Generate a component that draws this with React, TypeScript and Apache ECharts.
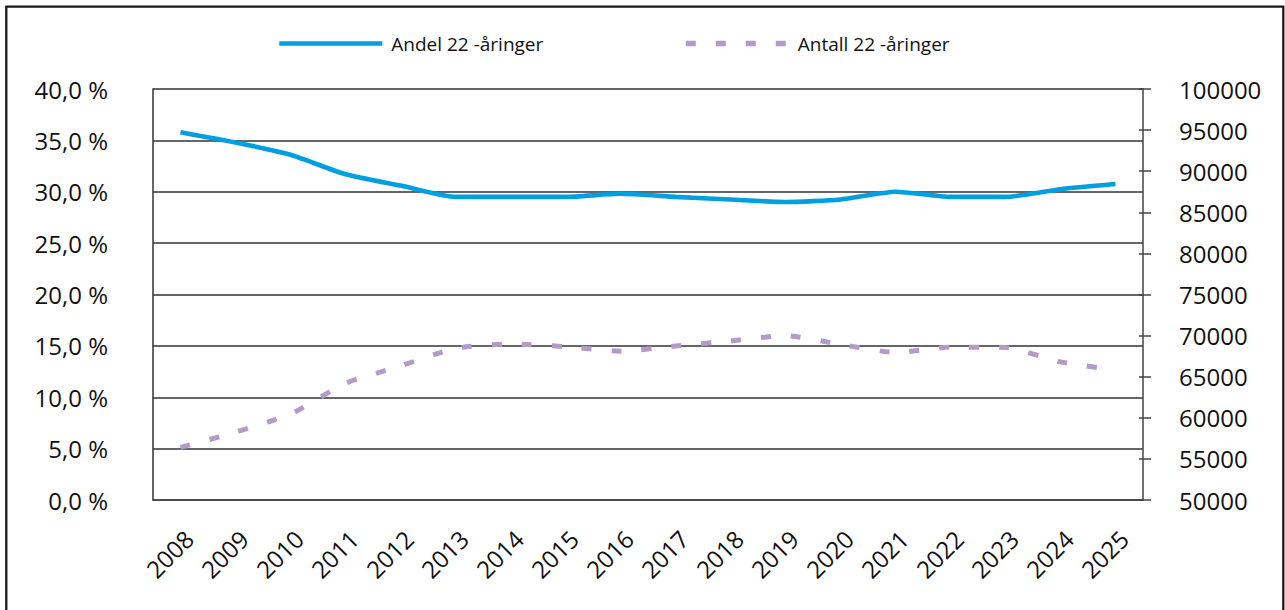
import React, { useEffect, useRef } from "react";
import * as echarts from "echarts";

const years = ["2008","2009","2010","2011","2012","2013","2014","2015","2016","2017","2018","2019","2020","2021","2022","2023","2024","2025"];
const andel = [35.8, 34.8, 33.6, 31.7, 30.6, 29.5, 29.5, 29.5, 29.8, 29.5, 29.25, 29.0, 29.25, 30.0, 29.5, 29.5, 30.25, 30.75];
const antall = [56400, 58250, 60450, 64200, 66300, 68450, 68980, 68650, 68100, 68730, 69350, 70000, 68930, 67950, 68600, 68550, 66800, 65800];
const nameAndel = "Andel 22 -åringer";
const nameAntall = "Antall 22 -åringer";

const FONT = "'Open Sans', 'Noto Sans', sans-serif";
const BLUE = "#009fe0";
const PURPLE = "#b39bc8";

export default function App() {
  const ref = useRef<HTMLDivElement>(null);
  useEffect(() => {
    const chart = echarts.init(ref.current!, null, { renderer: "svg" });
    chart.setOption({
      animation: false,
      backgroundColor: "#fff",
      textStyle: { fontFamily: FONT },
      graphic: [
        {
          type: "rect",
          shape: { x: 6.3, y: 6.7, width: 1277, height: 640 },
          style: { fill: "none", stroke: "#1a1a1a", lineWidth: 2.3 },
          silent: true,
        },
      ],
      legend: [
        {
          data: [nameAndel],
          left: 272,
          top: 29,
          itemWidth: 103,
          itemHeight: 20,
          textStyle: { fontFamily: FONT, fontSize: 19, color: "#111", padding: [0, 0, 0, 4] },
          lineStyle: { width: 4.6, color: BLUE },
          itemStyle: { opacity: 0 },
        },
        {
          data: [nameAntall],
          left: 678,
          top: 29,
          itemWidth: 103,
          itemHeight: 20,
          textStyle: { fontFamily: FONT, fontSize: 19, color: "#111", padding: [0, 0, 0, 4] },
          lineStyle: { width: 5.5, type: [10, 20], color: PURPLE, cap: "butt" },
          itemStyle: { opacity: 0 },
        },
      ],
      grid: { left: 153, right: 142, top: 89, bottom: 110, containLabel: false },
      xAxis: {
        type: "category",
        data: years,
        boundaryGap: true,
        axisLine: { show: true, lineStyle: { color: "#444", width: 1.5 } },
        axisTick: { show: false },
        axisLabel: {
          rotate: 45,
          margin: 26,
          verticalAlign: "top",
          fontFamily: FONT,
          fontSize: 24,
          color: "#111",
        },
      },
      yAxis: [
        {
          type: "value",
          min: 0,
          max: 40,
          interval: 5,
          position: "left",
          axisLine: { show: true, lineStyle: { color: "#333", width: 1.5 } },
          axisTick: { show: false },
          splitLine: { show: true, lineStyle: { color: "#333", width: 1.5 } },
          axisLabel: {
            margin: 45,
            fontFamily: FONT,
            fontSize: 24,
            color: "#111",
            formatter: (v: number) => v.toFixed(1).replace(".", ",") + " %",
          },
        },
        {
          type: "value",
          min: 50000,
          max: 100000,
          interval: 5000,
          position: "right",
          axisLine: { show: true, lineStyle: { color: "#444", width: 1.5 } },
          axisTick: { show: true, length: 8, lineStyle: { color: "#444", width: 1.5 } },
          splitLine: { show: false },
          axisLabel: {
            margin: 36,
            fontFamily: FONT,
            fontSize: 24,
            color: "#111",
            formatter: (v: number) => String(v),
          },
        },
        {
          type: "value",
          min: 50000,
          max: 100000,
          interval: 5000,
          position: "right",
          axisLine: { show: false },
          axisTick: { show: true, inside: true, length: 4, lineStyle: { color: "#444", width: 1.5 } },
          splitLine: { show: false },
          axisLabel: { show: false },
        },
      ],
      series: [
        {
          name: nameAndel,
          type: "line",
          yAxisIndex: 0,
          data: andel,
          symbol: "none",
          smooth: 0.2,
          lineStyle: { color: BLUE, width: 4.6 },
          itemStyle: { color: BLUE },
          z: 3,
        },
        {
          name: nameAntall,
          type: "line",
          yAxisIndex: 1,
          data: antall,
          symbol: "none",
          smooth: 0.2,
          lineStyle: { color: PURPLE, width: 5, type: [10, 20], cap: "butt" },
          itemStyle: { color: PURPLE },
          z: 2,
        },
      ],
    });
    return () => chart.dispose();
  }, []);
  return (
    <div
      ref={ref}
      style={{ position: "fixed", left: 0, top: 0, width: 1285, height: 610, background: "#fff" }}
    />
  );
}
